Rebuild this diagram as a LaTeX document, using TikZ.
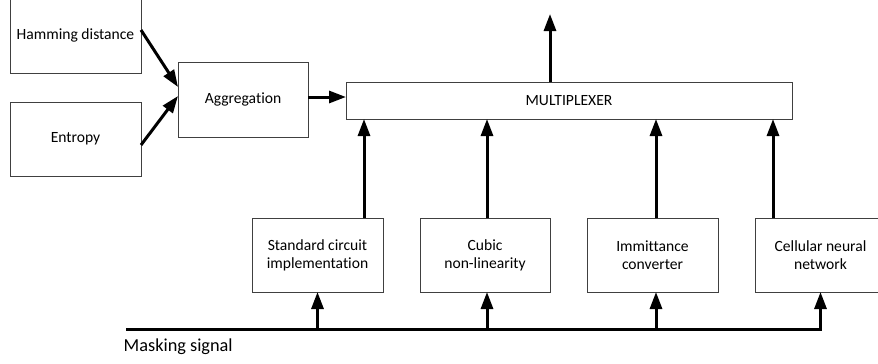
\documentclass[tikz,border=0pt]{standalone}
\usepackage{fontspec}
\setmainfont{Carlito}[Ligatures=NoCommon]
\usetikzlibrary{arrows.meta,calc}
\begin{document}
\begin{tikzpicture}[x=1pt,y=-1pt,
  box/.style={draw=black!75,line width=1pt,inner sep=0pt,outer sep=0pt,align=center,
    font=\fontsize{15.6pt}{18pt}\selectfont},
  conn/.style={line width=3pt,-{Triangle[length=17pt,width=12pt]}},
  bus/.style={line width=3pt}]
\useasboundingbox (0,0) rectangle (878,364);
\begin{scope}
\clip (0,0) rectangle (878,364);
\node[box,minimum width=131pt,minimum height=75pt] (ham) at (75.5,35.5) {Hamming distance};
\node[box,minimum width=131pt,minimum height=74pt] (ent) at (75.5,139) {Entropy};
\node[box,minimum width=130pt,minimum height=75pt] (agg) at (243,99.5) {Aggregation};
\node[box,minimum width=446pt,minimum height=37pt] (mux) at (569,100.5) {MULTIPLEXER};
\node[box,minimum width=131pt,minimum height=74pt] (std) at (317.5,255) {Standard circuit\\implementation};
\node[box,minimum width=130pt,minimum height=74pt] (cub) at (485,255) {Cubic\\non-linearity};
\node[box,minimum width=131pt,minimum height=74pt] (imm) at (652.5,255) {Immittance\\converter};
\node[box,minimum width=131pt,minimum height=74pt] (cnn) at (820.5,255) {Cellular neural\\network};
\end{scope}
\node[anchor=west,inner sep=0pt,font=\fontsize{18.3pt}{21pt}\selectfont] (mslabel) at (123.5,347) {Masking signal};

\coordinate (out) at (550,14);
\coordinate (ms1) at (127,329);

\draw[conn] ([yshift=5.5pt]ham.east) -- ([yshift=12.5pt]agg.west);
\draw[conn] ([yshift=-6pt]ent.east) -- ([yshift=3.5pt]agg.west);
\draw[conn] ([yshift=2.5pt]agg.east) -- ([yshift=2.5pt]agg.east -| mux.west);
\draw[conn] (out |- mux.north) -- (out);

\draw[conn] ([xshift=46.5pt]std.north) -- ([xshift=46.5pt]std.north |- mux.south);
\draw[conn] ([xshift=2pt]cub.north) -- ([xshift=2pt]cub.north |- mux.south);
\draw[conn] ([xshift=3.5pt]imm.north) -- ([xshift=3.5pt]imm.north |- mux.south);
\draw[conn] ([xshift=-47.5pt]cnn.north) -- ([xshift=-47.5pt]cnn.north |- mux.south);

\draw[bus,line cap=rect] (ms1) -- (ms1 -| cnn.south);
\draw[conn] (ms1 -| cnn.south) -- (cnn.south);
\draw[conn] (ms1 -| std.south) -- (std.south);
\draw[conn] (ms1 -| cub.south) ++(2,0) -- ([xshift=2pt]cub.south);
\draw[conn] (ms1 -| imm.south) ++(3.5,0) -- ([xshift=3.5pt]imm.south);
\end{tikzpicture}
\end{document}
